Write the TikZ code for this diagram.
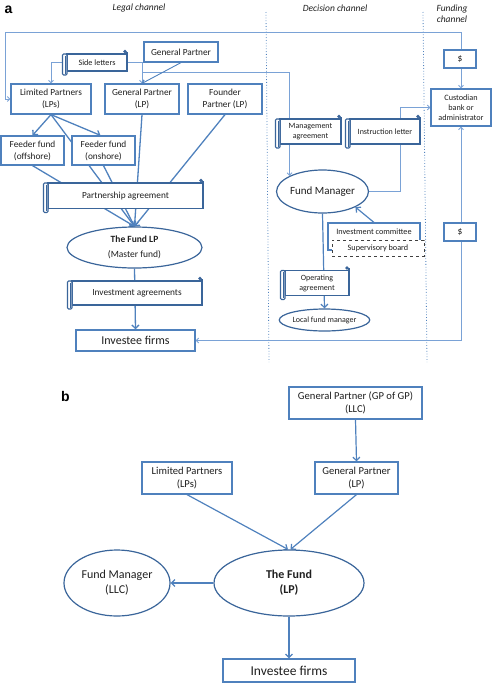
\documentclass[tikz,border=0pt]{standalone}
\usepackage{fontspec}
\setmainfont{Carlito}
\newfontfamily\arialf{Liberation Sans}
\usetikzlibrary{arrows.meta,shapes.geometric,backgrounds}
\definecolor{boxc}{HTML}{4F81BD}
\definecolor{darkc}{HTML}{3A659A}
\definecolor{thinc}{HTML}{7AA2D6}
\definecolor{txt}{HTML}{1F1F1F}
\tikzset{
 bx/.style={draw=boxc, line width=1.2pt, fill=white, inner sep=0pt, align=center, text=txt},
 sbx/.style={bx, line width=1.1pt},
 ell/.style={ellipse, draw=darkc, line width=1.2pt, fill=white, inner sep=0pt, align=center, text=txt},
 scr/.style={draw=darkc, line width=1.1pt, fill=white, inner sep=0pt, outer sep=0pt, align=center, text=txt},
 scrl/.style={draw=darkc, line width=1.1pt, fill=white},
 dbx/.style={draw=black!75, dashed, line width=0.8pt, fill=white, inner sep=0pt, align=center, text=txt},
 thinln/.style={draw=thinc, line width=0.9pt},
 thk/.style={draw=boxc, line width=1.3pt},
 med/.style={draw=boxc, line width=1.2pt},
 tarr/.style={-{Straight Barb[length=2.5pt,width=5pt]}},
 tarr2/.style={{Straight Barb[length=2.5pt,width=5pt]}-{Straight Barb[length=2.5pt,width=5pt]}},
 karr/.style={-{Straight Barb[length=3.5pt,width=7pt]}},
 ttl/.style={font=\itshape\fontsize{9.5}{11}\selectfont, text=txt, inner sep=0pt},
 lbl/.style={font=\arialf\bfseries\fontsize{14}{16}\selectfont, text=black, inner sep=0pt},
}
\newcommand\scrolldeco[1]{%
 \draw[scrl, rounded corners=1.2pt] ([xshift=-4.5pt]#1.north west) rectangle ([yshift=-4pt]#1.south west);
 \draw[draw=darkc, line width=0.6pt] ([xshift=-2.2pt,yshift=-1.5pt]#1.north west) -- ([xshift=-2.2pt,yshift=-2.5pt]#1.south west);
 \draw[draw=darkc, line width=1.1pt] (#1.north east) -- ([yshift=2.5pt]#1.north east);
 \fill[darkc] ([xshift=-2pt,yshift=2.5pt]#1.north east) circle (1.8pt);
}
\begin{document}
\begin{tikzpicture}[x=1pt,y=-1pt]
\useasboundingbox (0,0) rectangle (493,683);

% ---------- part a labels
\node[lbl] (la) at (8.5,9.5) {a};
\node[ttl] (t1) at (139,8) {Legal channel};
\node[ttl] (t2) at (335,8) {Decision channel};
\node[ttl, align=center] (t3) at (452,13.5) {Funding\\channel};

% ---------- part a nodes
\node[bx, minimum width=74pt, minimum height=20pt, font=\fontsize{9.3}{12}\selectfont] (GPt) at (181,52) {General Partner};
\node[bx, minimum width=80pt, minimum height=30pt, font=\fontsize{9.3}{12}\selectfont] (LPs) at (51,99) {Limited Partners\\(LPs)};
\node[bx, minimum width=74pt, minimum height=30pt, font=\fontsize{9.3}{12}\selectfont] (GPLP) at (142,99) {General Partner\\(LP)};
\node[bx, minimum width=74pt, minimum height=30pt, font=\fontsize{9.3}{12}\selectfont] (Fnd) at (225,99) {Founder\\Partner (LP)};
\node[bx, minimum width=63pt, minimum height=29pt, font=\fontsize{9.3}{12}\selectfont] (Off) at (32.5,150.5) {Feeder fund\\(offshore)};
\node[bx, minimum width=63pt, minimum height=29pt, font=\fontsize{9.3}{12}\selectfont] (On) at (103.5,150.5) {Feeder fund\\(onshore)};
\node[scr, minimum width=60pt, minimum height=17pt, font=\fontsize{8.2}{10}\selectfont] (SideL) at (97,62.5) {Side letters};
\node[scr, minimum width=155pt, minimum height=25.5pt, font=\fontsize{9.3}{12}\selectfont] (PartA) at (125.5,195.75) {Partnership agreement};
\node[ell, minimum width=135pt, minimum height=41pt, font=\fontsize{9.5}{14.5}\selectfont] (FundLP) at (134.5,247.5) {\textbf{The Fund LP}\\(Master fund)};
\node[scr, minimum width=130pt, minimum height=24pt, font=\fontsize{9.3}{12}\selectfont] (InvA) at (137,293) {Investment agreements};
\node[bx, minimum width=119pt, minimum height=21pt, font=\fontsize{12}{14}\selectfont] (Inv) at (135.5,340.5) {Investee firms};

\node[scr, minimum width=61pt, minimum height=25pt, font=\fontsize{8}{10}\selectfont] (MgmtA) at (310.5,131.5) {Management\\agreement};
\node[scr, minimum width=70pt, minimum height=25pt, font=\fontsize{8}{10}\selectfont] (InstrL) at (385,131.5) {Instruction letter};
\node[bx, minimum width=60pt, minimum height=37pt, font=\fontsize{8.2}{9.8}\selectfont] (Cust) at (461,107.5) {Custodian\\bank or\\administrator};
\node[bx, minimum width=32pt, minimum height=18pt, font=\fontsize{9.5}{11}\selectfont] (D1) at (460,59) {\$};
\node[bx, minimum width=32pt, minimum height=18pt, font=\fontsize{9.5}{11}\selectfont] (D2) at (460,232) {\$};
\node[ell, minimum width=91pt, minimum height=43pt, font=\fontsize{11}{13}\selectfont] (FM) at (322.5,191.5) {Fund Manager};
\node[sbx, minimum width=92pt, minimum height=27pt] (InvComm) at (374,236.5) {};
\node[inner sep=0pt, text=txt, font=\fontsize{8.2}{10}\selectfont] (icl) at (374,231.5) {Investment committee};
\node[dbx, minimum width=92pt, minimum height=16pt, font=\fontsize{8.2}{10}\selectfont] (SupB) at (378,248) {Supervisory board};
\node[scr, minimum width=64pt, minimum height=25pt, font=\fontsize{8}{10}\selectfont] (OpA) at (317,283) {Operating\\agreement};
\node[ell, minimum width=87pt, minimum height=22pt, font=\fontsize{8}{10}\selectfont] (LFM) at (324.5,320) {Local fund manager};

\scrolldeco{SideL}
\scrolldeco{PartA}
\scrolldeco{InvA}
\scrolldeco{MgmtA}
\scrolldeco{InstrL}
\scrolldeco{OpA}

% ---------- part b nodes
\node[lbl] (lb) at (65.5,396.5) {b};
\node[bx, minimum width=133pt, minimum height=32pt, font=\fontsize{10.6}{13}\selectfont] (GPGP) at (355.5,403) {General Partner (GP of GP)\\(LLC)};
\node[bx, minimum width=90pt, minimum height=32pt, font=\fontsize{10.6}{13}\selectfont] (LPsb) at (187,478) {Limited Partners\\(LPs)};
\node[bx, minimum width=83pt, minimum height=32pt, font=\fontsize{10.6}{13}\selectfont] (GPb) at (356.5,478) {General Partner\\(LP)};
\node[ell, minimum width=150pt, minimum height=66pt, font=\fontsize{12}{15}\selectfont] (Fundb) at (289,583) {\textbf{The Fund}\\\textbf{(LP)}};
\node[ell, minimum width=106pt, minimum height=66pt, font=\fontsize{12}{15}\selectfont] (FMb) at (117,583) {Fund Manager\\(LLC)};
\node[bx, minimum width=132pt, minimum height=23pt, font=\fontsize{13.5}{15}\selectfont] (Invb) at (289,670.5) {Investee firms};

% ---------- connectors (behind nodes)
\begin{scope}[on background layer]
\coordinate (d1a) at (266,12); \coordinate (d1b) at (269,362);
\coordinate (d2a) at (423,12); \coordinate (d2b) at (427,362);
\draw[boxc, dotted, line width=0.8pt] (d1a) -- (d1b);
\draw[boxc, dotted, line width=0.8pt] (d2a) -- (d2b);

\coordinate (tl) at (5,32);
\coordinate (tr) at (461,32);
\draw[thinln, tarr2] (LPs.west) -| (tl) -- (tr) -- (Cust.north);

\draw[thinln, tarr] ([xshift=-4.5pt]SideL.west) -| (LPs.north);
\draw[thinln, tarr] (SideL.east) -| (GPLP.north);
\coordinate (brm) at (142,72);
\draw[thinln, tarr] (brm) -| (FM.north west);
\draw[draw=boxc, line width=0.9pt, tarr] (GPt.south) -- (GPLP.north);

\draw[thk, karr] (LPs.south) -- (Off.north);
\draw[thk, karr] (LPs.south) -- ([xshift=-3pt]On.north);
\draw[thk, karr] (LPs.south) -- (FundLP.north);
\draw[thk, karr] (Off.south) -- (FundLP.north);
\draw[thk, karr] (On.south) -- (FundLP.north);
\draw[thk, karr] (GPLP.south) -- (FundLP.north);
\draw[thk, karr] (Fnd.south) -- (FundLP.north);
\draw[thk, karr] (FundLP.south) -- (Inv.north);

\coordinate (rb) at (461,340.5);
\draw[thinln, tarr2] (Inv.east) -- (rb) -- (Cust.south);
\coordinate (ix) at (400,107.5);
\draw[thinln, tarr] (FM.east) -| (ix) -- (Cust.west);

\draw[med, karr] (InvComm.north) -- (FM.south east);
\draw[med, karr] (FM.south) -- (LFM.north);

% part b
\draw[med, karr] (GPGP.south) -- (GPb.north);
\draw[med, karr] (LPsb.south) -- ([xshift=-1pt]Fundb.north);
\draw[med, karr] (GPb.south) -- ([xshift=1.5pt]Fundb.north);
\draw[med, karr] (Fundb.west) -- (FMb.east);
\draw[med, karr] (Fundb.south) -- (Invb.north);
\end{scope}
\end{tikzpicture}
\end{document}
